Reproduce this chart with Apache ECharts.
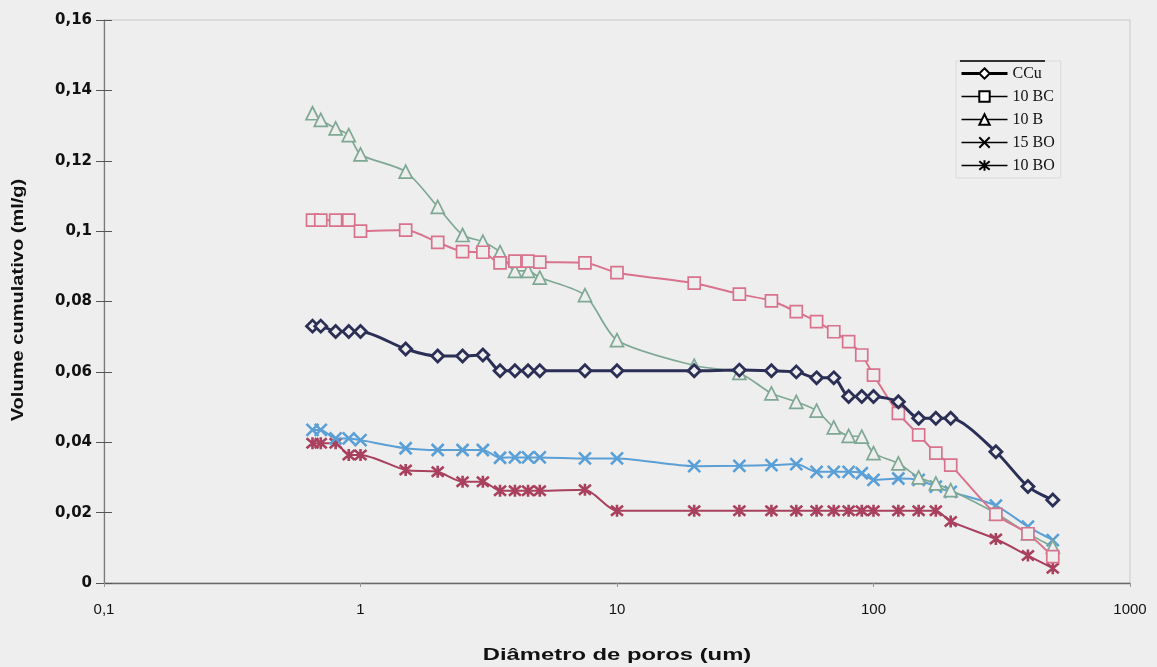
<!DOCTYPE html>
<html>
<head>
<meta charset="utf-8">
<script src="https://cdn.jsdelivr.net/npm/echarts@6/dist/echarts.min.js"></script>
<style>
  html, body { margin: 0; padding: 0; background: #eeeeee; }
  #chart { width: 1157px; height: 667px; }
</style>
</head>
<body>
<div id="chart"></div>
<script>
// Pore diameters (um) shared by every sample
const diameters = [0.65, 0.7, 0.8, 0.9, 1, 1.5, 2, 2.5, 3, 3.5, 4, 4.5, 5, 7.5, 10, 20, 30, 40, 50, 60, 70, 80, 90, 100, 125, 150, 175, 200, 300, 400, 500];

// Cumulative volume (ml/g) per sample
const ccu  = [0.073, 0.073, 0.0715, 0.0715, 0.0715, 0.0665, 0.0645, 0.0645, 0.0648, 0.0603, 0.0603, 0.0603, 0.0603, 0.0603, 0.0603, 0.0603, 0.0605, 0.0603, 0.060, 0.0583, 0.0583, 0.053, 0.053, 0.053, 0.0515, 0.0468, 0.0468, 0.0468, 0.0373, 0.0274, 0.0236];
const bc10 = [0.1031, 0.1031, 0.1031, 0.1031, 0.1000, 0.1003, 0.0968, 0.0942, 0.094, 0.091, 0.0915, 0.0915, 0.0912, 0.091, 0.0882, 0.0852, 0.0821, 0.0802, 0.0771, 0.0743, 0.0714, 0.0686, 0.0648, 0.0591, 0.0482, 0.0421, 0.0369, 0.0335, 0.0195, 0.014, 0.0075];
const b10  = [0.1335, 0.1316, 0.1292, 0.1273, 0.1218, 0.1169, 0.1069, 0.0989, 0.097, 0.094, 0.0887, 0.0887, 0.0868, 0.0818, 0.069, 0.0618, 0.0597, 0.0539, 0.0515, 0.049, 0.0442, 0.0418, 0.0416, 0.0369, 0.034, 0.030, 0.0283, 0.0264, 0.0198, 0.0141, 0.0103];
const bo15 = [0.0435, 0.0435, 0.0411, 0.0411, 0.0406, 0.0383, 0.0378, 0.0378, 0.0378, 0.0356, 0.0357, 0.0357, 0.0357, 0.0354, 0.0354, 0.0332, 0.0333, 0.0335, 0.0338, 0.0316, 0.0316, 0.0316, 0.0312, 0.0293, 0.0297, 0.0293, 0.0274, 0.0259, 0.022, 0.016, 0.0122];
const bo10 = [0.0397, 0.0397, 0.0397, 0.0364, 0.0364, 0.0321, 0.0316, 0.0288, 0.0288, 0.0262, 0.0262, 0.0262, 0.0262, 0.0265, 0.0205, 0.0205, 0.0205, 0.0205, 0.0205, 0.0205, 0.0205, 0.0205, 0.0205, 0.0205, 0.0205, 0.0205, 0.0205, 0.0175, 0.0125, 0.0078, 0.0042];

const seriesNames = ['CCu', '10 BC', '10 B', '15 BO', '10 BO'];
const seriesValues = [ccu, bc10, b10, bo15, bo10];

const xTitle = 'Diâmetro de poros (um)';
const yTitle = 'Volume cumulativo (ml/g)';

const BG = '#eeeeee';
const CROSS = 'path://M0,0L10,10M10,0L0,10';
const STAR = 'path://M0,0L10,10M10,0L0,10M5,-1L5,11';

const looks = [
  { color: '#2b2f55', symbol: 'diamond', size: 12, width: 3, border: 2.8, fill: BG },
  { color: '#d9728d', symbol: 'rect', size: 12, width: 2, border: 1.7, fill: BG },
  { color: '#7fa894', symbol: 'triangle', size: 13, width: 1.7, border: 1.7, fill: BG },
  { color: '#5a9fd6', symbol: CROSS, size: 12, width: 2, border: 2.6, fill: '#5a9fd6' },
  { color: '#a8405e', symbol: STAR, size: 12, width: 2, border: 2.6, fill: '#a8405e' }
];

const comma = v => String(parseFloat(Number(v).toFixed(4))).replace('.', ',');

const chart = echarts.init(document.getElementById('chart'));

const series = seriesNames.map((name, i) => {
  const lk = looks[i];
  return {
    name: name,
    type: 'line',
    smooth: 0.25,
    data: diameters.map((d, k) => [d, seriesValues[i][k]]),
    symbol: lk.symbol,
    symbolSize: lk.size,
    lineStyle: { color: lk.color, width: lk.width },
    itemStyle: { color: lk.fill, borderColor: lk.color, borderWidth: lk.border },
    z: 10 - i
  };
});

const legendData = seriesNames.map((name, i) => ({
  name: name,
  itemStyle: { color: looks[i].fill === BG ? '#ffffff' : '#000', borderColor: '#000', borderWidth: 2 },
  lineStyle: { color: '#000', width: i === 0 ? 3 : 1.6 }
}));

const titleFont = { fontFamily: 'Liberation Sans', fontWeight: 'bold', fontSize: 17, fill: '#111' };

chart.setOption({
  backgroundColor: BG,
  animation: false,
  grid: {
    left: 104, right: 27, top: 20, bottom: 84,
    show: true, borderColor: '#cacaca', borderWidth: 1, backgroundColor: 'transparent'
  },
  legend: {
    orient: 'vertical',
    left: 956, top: 61,
    padding: [4, 6, 4, 4],
    itemWidth: 46, itemHeight: 13, itemGap: 6,
    borderColor: '#dadada', borderWidth: 1,
    textStyle: { fontFamily: 'Liberation Serif', fontSize: 16, color: '#111', lineHeight: 17 },
    data: legendData
  },
  xAxis: {
    type: 'log',
    logBase: 10,
    min: 0.1, max: 1000,
    axisLine: { lineStyle: { color: '#6a6a6a', width: 1.3 } },
    axisTick: { show: true, length: 4, lineStyle: { color: '#999' } },
    axisLabel: { margin: 19, fontFamily: 'Liberation Sans', fontSize: 15, color: '#111', formatter: comma },
    splitLine: { show: false }
  },
  yAxis: [{
    type: 'value',
    min: 0, max: 0.16, interval: 0.02,
    axisLine: { show: true, lineStyle: { color: '#7a7a7a', width: 1.2 } },
    axisTick: { show: true, length: 8, lineStyle: { color: '#555' } },
    axisLabel: { margin: 12, fontFamily: 'DejaVu Sans', fontWeight: 'bold', fontSize: 15, color: '#111', formatter: comma },
    splitLine: { show: false }
  }, {
    type: 'value',
    position: 'left',
    min: 0, max: 0.16, interval: 0.02,
    axisLine: { show: false },
    axisTick: { show: true, inside: true, length: 8, lineStyle: { color: '#555' } },
    axisLabel: { show: false },
    splitLine: { show: false }
  }],
  graphic: [{
    // axis titles, drawn slightly widened
    type: 'text',
    x: 617, y: 655, scaleX: 1.4,
    style: Object.assign({ text: xTitle, align: 'center', verticalAlign: 'middle' }, titleFont)
  }, {
    type: 'text',
    x: 18, y: 300, rotation: Math.PI / 2, scaleX: 1.18,
    style: Object.assign({ text: yTitle, align: 'center', verticalAlign: 'middle' }, titleFont)
  }, {
    type: 'line',
    shape: { x1: 960, y1: 61, x2: 1045, y2: 61 },
    style: { stroke: '#333', lineWidth: 2 },
    z: 100
  }],
  series: series
});
</script>
</body>
</html>
